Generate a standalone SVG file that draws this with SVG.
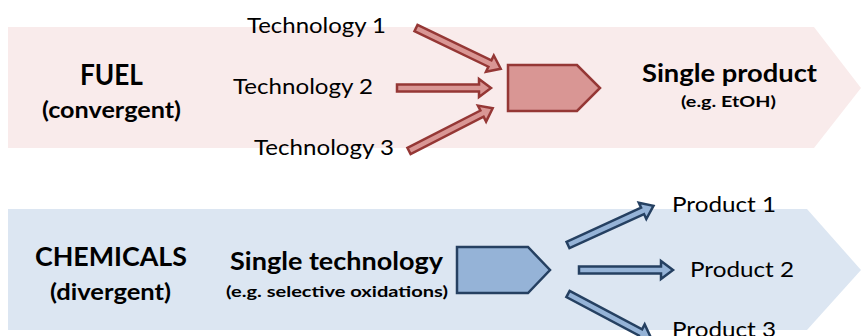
<svg xmlns="http://www.w3.org/2000/svg" xmlns:xlink="http://www.w3.org/1999/xlink" width="861" height="336" viewBox="0 0 861 336">
  <style>
    .t { font-family: Lato, "Open Sans", "Liberation Sans", sans-serif; fill: #000; }
    .b { font-weight: bold; }
    .red { fill: #d99694; stroke: #953735; stroke-width: 2.5; stroke-linejoin: miter; }
    .blue { fill: #95b3d7; stroke: #254061; stroke-width: 2.5; stroke-linejoin: miter; }
  </style>
  <defs>
    <!-- block arrow, tail at origin, tip at (94,0) -->
    <path id="blk" d="M0,-3.5 H82 V-9 L94,0 L82,9 V3.5 H0 Z"/>
  </defs>

  <!-- background bands -->
  <g id="fuel-band">
    <path d="M8,27 H814 L861,88 L814,148 H8 Z" fill="#f9ebeb"/>
  </g>
  <g id="chem-band">
    <path d="M8,209 H807 L861,270 L807,330 H8 Z" fill="#dce6f2"/>
  </g>

  <!-- fuel side -->
  <g id="fuel-label">
    <text class="t b" x="80" y="85" font-size="28" textLength="63" lengthAdjust="spacingAndGlyphs">FUEL</text>
    <text class="t b" x="42" y="118" font-size="23" textLength="139" lengthAdjust="spacingAndGlyphs">(convergent)</text>
  </g>
  <g id="tech1"><text class="t" x="247" y="33" font-size="22" textLength="139" lengthAdjust="spacingAndGlyphs">Technology 1</text></g>
  <g id="tech2"><text class="t" x="233" y="94" font-size="22" textLength="140" lengthAdjust="spacingAndGlyphs">Technology 2</text></g>
  <g id="tech3"><text class="t" x="254" y="155" font-size="22" textLength="140" lengthAdjust="spacingAndGlyphs">Technology 3</text></g>
  <g id="fuel-process">
    <path class="red" d="M508,65 H577 L600,88 L577,111 H508 Z"/>
  </g>
  <g id="single-product">
    <text class="t b" x="642" y="82" font-size="24" textLength="175" lengthAdjust="spacingAndGlyphs">Single product</text>
    <text class="t b" x="681" y="107" font-size="16" textLength="95" lengthAdjust="spacingAndGlyphs">(e.g. EtOH)</text>
  </g>

  <!-- chemicals side -->
  <g id="chem-label">
    <text class="t b" x="35" y="266" font-size="26" textLength="152" lengthAdjust="spacingAndGlyphs">CHEMICALS</text>
    <text class="t b" x="50" y="300" font-size="23" textLength="121" lengthAdjust="spacingAndGlyphs">(divergent)</text>
  </g>
  <g id="single-technology">
    <text class="t b" x="230" y="270" font-size="25" textLength="213" lengthAdjust="spacingAndGlyphs">Single technology</text>
    <text class="t b" x="226" y="297" font-size="16" textLength="222" lengthAdjust="spacingAndGlyphs">(e.g. selective oxidations)</text>
  </g>
  <g id="chem-process">
    <path class="blue" d="M457,247 H528 L550,270 L528,293 H457 Z"/>
  </g>
  <g id="product1"><text class="t" x="672" y="212" font-size="22" textLength="104" lengthAdjust="spacingAndGlyphs">Product 1</text></g>
  <g id="product2"><text class="t" x="690" y="277" font-size="22" textLength="104" lengthAdjust="spacingAndGlyphs">Product 2</text></g>
  <g id="product3"><text class="t" x="672" y="337" font-size="22" textLength="104" lengthAdjust="spacingAndGlyphs">Product 3</text></g>

  <!-- connectors -->
  <g id="connectors">
    <use xlink:href="#blk" class="red" transform="translate(416,28) rotate(25.7)"/>
    <use xlink:href="#blk" class="red" transform="translate(397,88)"/>
    <use xlink:href="#blk" class="red" transform="translate(409,151) rotate(-27.1)"/>
    <use xlink:href="#blk" class="blue" transform="translate(568,245) rotate(-24.6)"/>
    <use xlink:href="#blk" class="blue" transform="translate(579,270)"/>
    <use xlink:href="#blk" class="blue" transform="translate(568,294) rotate(27.9)"/>
  </g>
</svg>
